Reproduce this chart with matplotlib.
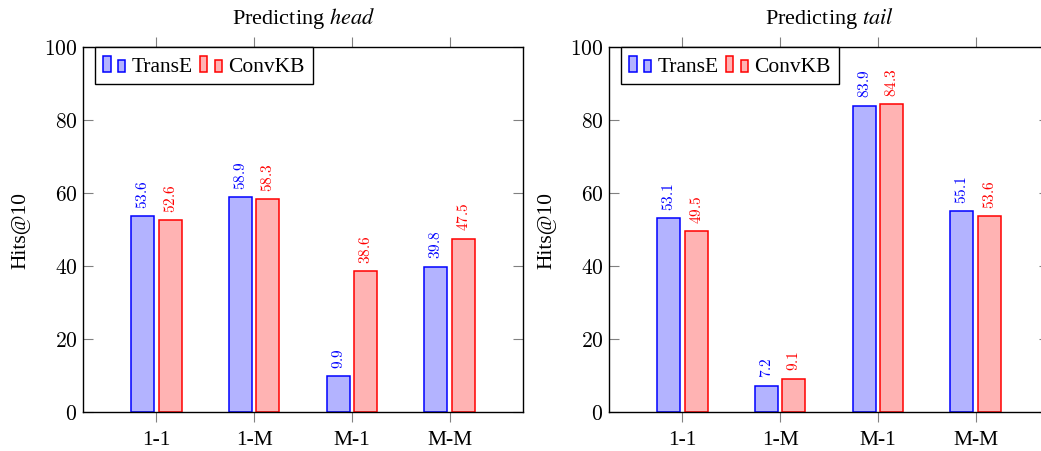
import matplotlib
matplotlib.use("Agg")
import matplotlib.pyplot as plt
import numpy as np
from matplotlib.legend_handler import HandlerBase
from matplotlib.patches import Rectangle

categories = ["1-1", "1-M", "M-1", "M-M"]
series_names = ["TransE", "ConvKB"]
head_transe = [53.6, 58.9, 9.9, 39.8]
head_convkb = [52.6, 58.3, 38.6, 47.5]
tail_transe = [53.1, 7.2, 83.9, 55.1]
tail_convkb = [49.5, 9.1, 84.3, 53.6]
yticks = [0, 20, 40, 60, 80, 100]

plt.rcParams['font.family'] = ['Liberation Serif', 'DejaVu Serif']
plt.rcParams['mathtext.fontset'] = 'cm'

FS = 15.5
edge_colors = ["#0000ff", "#ff0000"]
face_colors = ["#b3b3ff", "#ffb3b3"]


class TwoBarHandler(HandlerBase):
    def create_artists(self, legend, orig_handle, xdescent, ydescent,
                       width, height, fontsize, trans):
        fc = orig_handle.get_facecolor()
        ec = orig_handle.get_edgecolor()
        w = width * 0.33
        h1 = height * 1.05
        h2 = height * 0.78
        y0 = -ydescent - height * 0.08
        r1 = Rectangle((-xdescent, y0), w, h1, facecolor=fc, edgecolor=ec,
                       linewidth=1.1, transform=trans)
        r2 = Rectangle((-xdescent + width * 0.67, y0), w, h2, facecolor=fc,
                       edgecolor=ec, linewidth=1.1, transform=trans)
        return [r1, r2]


fig = plt.figure(figsize=(10.41, 4.52), dpi=100)
W, H = 1041, 452
ax_w = 440 / W
ax_b = 1 - 413 / H
ax_h = (413 - 48) / H
ax1 = fig.add_axes([83 / W, ax_b, ax_w, ax_h])
ax2 = fig.add_axes([609 / W, ax_b, ax_w, ax_h])

x = np.arange(len(categories))
bw = 0.235
off = 0.14

for ax, t_vals, c_vals, title in [(ax1, head_transe, head_convkb, "head"),
                                  (ax2, tail_transe, tail_convkb, "tail")]:
    handles = []
    for i, (vals, o) in enumerate([(t_vals, -off), (c_vals, off)]):
        bars = ax.bar(x + o, vals, width=bw, color=face_colors[i],
                      edgecolor=edge_colors[i], linewidth=1.1,
                      label=series_names[i], zorder=2)
        handles.append(bars.patches[0])
        for xi, v in zip(x + o, vals):
            ax.annotate(f"${v:.1f}$", (xi, v), xytext=(0, 6),
                        textcoords="offset points", rotation=90,
                        ha="center", va="bottom", fontsize=11,
                        color=edge_colors[i])
    ax.set_xlim(-0.75, 3.75)
    ax.set_ylim(0, 100)
    ax.set_xticks(x)
    ax.set_xticklabels(categories, fontsize=FS)
    ax.set_yticks(yticks)
    ax.set_yticklabels([f"${v}$" for v in yticks], fontsize=FS)
    ax.tick_params(axis='x', direction='out', length=7, width=0.8,
                   color='#808080', top=True, bottom=True, pad=6)
    ax.tick_params(axis='y', direction='in', length=7, width=0.8,
                   color='#808080', left=True, right=True, pad=4)
    for s in ax.spines.values():
        s.set_linewidth(1.0)
        s.set_color('black')
    ax.set_ylabel("Hits@10", fontsize=FS, labelpad=10)
    ax.set_title("Predicting $\\it{" + title + "}$", fontsize=16, pad=17,
                 math_fontfamily='stix')
    leg = ax.legend(handles=handles, labels=series_names, loc='upper left',
                    bbox_to_anchor=(0.027, 1.0), borderaxespad=0,
                    ncol=2, fontsize=FS, frameon=True, fancybox=False,
                    framealpha=1, edgecolor='black', handlelength=1.0,
                    handletextpad=0.3, columnspacing=0.35, borderpad=0.4,
                    handler_map={Rectangle: TwoBarHandler()})
    leg.get_frame().set_linewidth(1.0)

fig.savefig("out.png", dpi=100)
